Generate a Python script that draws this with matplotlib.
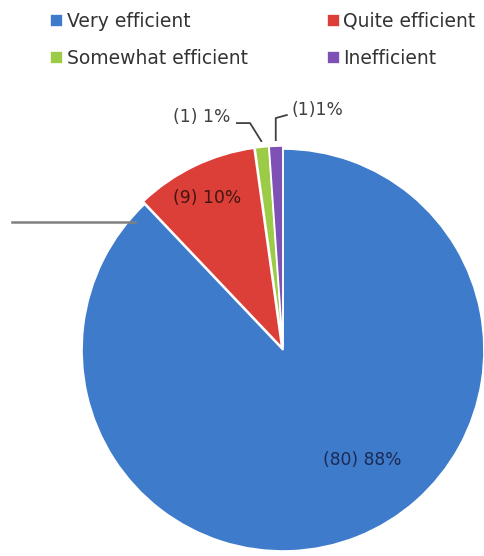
import matplotlib
matplotlib.use("Agg")
import matplotlib.pyplot as plt
import numpy as np

categories = ["Very efficient", "Quite efficient", "Somewhat efficient", "Inefficient"]
counts = [80, 9, 1, 1]
pct_labels = ["(80) 88%", "(9) 10%", "(1) 1%", "(1)1%"]
colors = ["#3F7BCB", "#DC3F38", "#9CCB48", "#7E52B5"]

plt.rcParams['font.family'] = ['DejaVu Sans']

fig = plt.figure(figsize=(4.85, 5.56), dpi=100)
ax = fig.add_axes([0.169, 0.009, 0.829, 0.723])

wedges, _ = ax.pie(counts, colors=colors, startangle=90, counterclock=False,
                   explode=[0, 0.015, 0.015, 0.015],
                   wedgeprops=dict(edgecolor="white", linewidth=1.2))
ax.set_xlim(-1, 1)
ax.set_ylim(-1, 1)
ax.set_aspect('equal')

# data labels (text placement)
txt_kw = dict(ha="center", va="center", fontsize=12.3, clip_on=False)
label_pos = [(0.393, -0.547), (-0.378, 0.756), (-0.403, 1.159), (0.169, 1.194)]
label_col = ["#1B2A55", "#401612", "#404040", "#404040"]
for lab, (x, y), c in zip(pct_labels, label_pos, label_col):
    ax.text(x, y, lab, color=c, **txt_kw)

# leader lines for the small slices
def edge_point(i, r=1.0):
    w = wedges[i]
    th = np.deg2rad((w.theta1 + w.theta2) / 2)
    cx, cy = w.center
    return cx + r * np.cos(th), cy + r * np.sin(th)

gx, gy = edge_point(2, 1.03)
ax.plot([-0.229, -0.164, gx], [1.129, 1.129, gy], color="#404040", lw=1.3, clip_on=False)
px, py = edge_point(3, 1.03)
ax.plot([px, px, px + 0.055], [py, 1.154, 1.169], color="#404040", lw=1.3, clip_on=False)

# stray leader line on the left
fig.add_artist(plt.Line2D([12 / 485, 135 / 485], [1 - 222 / 556, 1 - 222 / 556],
                          color="#808080", lw=1.8))

# legend filled row by row (matplotlib fills column by column)
order = [0, 2, 1, 3]
leg = fig.legend([wedges[i] for i in order], [categories[i] for i in order],
                 loc="upper left", bbox_to_anchor=(0.103, 0.979),
                 ncol=2, frameon=False, fontsize=13.5, handlelength=0.7, handleheight=0.7,
                 handletextpad=0.2, columnspacing=4.2, labelspacing=0.97,
                 borderpad=0, borderaxespad=0)
for t in leg.get_texts():
    t.set_color("#333333")

fig.savefig("out.png", dpi=100)
